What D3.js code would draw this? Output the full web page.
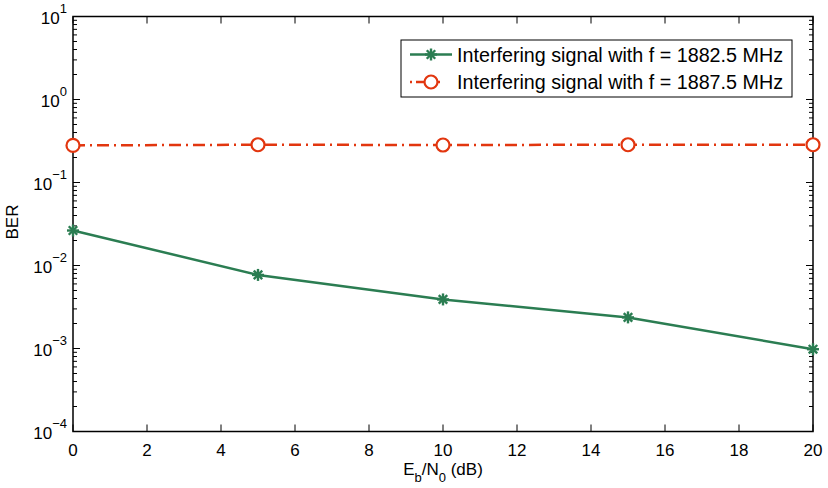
<!DOCTYPE html>
<meta charset="utf-8">
<script src="https://d3js.org/d3.v7.min.js"></script>
<style>
body { margin: 0; background: #fff; }
text { font-family: "Liberation Sans", Arial, sans-serif; }
</style>
<div id="chart"></div>
<script>
// data
var ebno = [0, 5, 10, 15, 20];
var ber1882 = [0.0264, 0.0077, 0.0039, 0.00237, 0.00098];
var ber1887 = [0.28, 0.285, 0.283, 0.285, 0.285];
var xTicks = [0, 2, 4, 6, 8, 10, 12, 14, 16, 18, 20];
var yExps = [-4, -3, -2, -1, 0, 1];
var seriesNames = ["Interfering signal with f = 1882.5 MHz", "Interfering signal with f = 1887.5 MHz"];

var W = 828, H = 488;
var margin = {top: 16.5, right: 15, bottom: 56.5, left: 73};
var width = W - margin.left - margin.right,
    height = H - margin.top - margin.bottom;

var green = "#2b7d52", red = "#e2360f";

var svg = d3.select("#chart").append("svg")
    .attr("width", W).attr("height", H);
var g = svg.append("g")
    .attr("transform", "translate(" + margin.left + "," + margin.top + ")");

var x = d3.scaleLinear().domain([0, 20]).range([0, width]);
var y = d3.scaleLog().domain([1e-4, 10]).range([height, 0]);

// minor log ticks
var minor = [];
yExps.slice(0, -1).forEach(function(e) {
  for (var k = 2; k <= 9; k++) minor.push(k * Math.pow(10, e));
});

var ticks = g.append("g").attr("stroke", "#000").attr("stroke-width", 1);
// y major / minor, left and right, inward
yExps.forEach(function(e) {
  var yy = y(Math.pow(10, e));
  ticks.append("line").attr("x1", 0).attr("x2", 7).attr("y1", yy).attr("y2", yy);
  ticks.append("line").attr("x1", width).attr("x2", width - 7).attr("y1", yy).attr("y2", yy);
});
minor.forEach(function(v) {
  var yy = y(v);
  ticks.append("line").attr("x1", 0).attr("x2", 4).attr("y1", yy).attr("y2", yy);
  ticks.append("line").attr("x1", width).attr("x2", width - 4).attr("y1", yy).attr("y2", yy);
});
// x ticks bottom and top, inward
xTicks.forEach(function(t) {
  var xx = x(t);
  ticks.append("line").attr("x1", xx).attr("x2", xx).attr("y1", height).attr("y2", height - 7);
  ticks.append("line").attr("x1", xx).attr("x2", xx).attr("y1", 0).attr("y2", 7);
});

// box
g.append("rect").attr("width", width).attr("height", height)
  .attr("fill", "none").attr("stroke", "#000").attr("stroke-width", 1.5);

// x tick labels
g.selectAll(".xl").data(xTicks).enter().append("text")
  .attr("x", function(d) { return x(d); })
  .attr("y", height + 24)
  .attr("text-anchor", "middle")
  .attr("font-size", 17)
  .text(function(d) { return d; });

// y tick labels 10^e
var yl = g.selectAll(".yl").data(yExps).enter().append("text")
  .attr("x", -6)
  .attr("y", function(d) { return y(Math.pow(10, d)) + 7; })
  .attr("text-anchor", "end")
  .attr("font-size", 17);
yl.append("tspan").text("10");
yl.append("tspan").attr("dy", -11).attr("font-size", 13)
  .text(function(d) { return d < 0 ? "\u2212" + (-d) : d; });

// axis titles
var xt = svg.append("text")
  .attr("x", margin.left + width / 2)
  .attr("y", 475)
  .attr("text-anchor", "middle")
  .attr("font-size", 17);
xt.append("tspan").text("E");
xt.append("tspan").attr("font-size", 13).attr("dy", 7).text("b");
xt.append("tspan").attr("dy", -7).text("/N");
xt.append("tspan").attr("font-size", 13).attr("dy", 7).text("0");
xt.append("tspan").attr("dy", -7).text(" (dB)");

svg.append("text")
  .attr("transform", "translate(18," + (margin.top + height / 2 - 2) + ") rotate(-90)")
  .attr("text-anchor", "middle")
  .attr("font-size", 17)
  .text("BER");

var line = d3.line()
  .x(function(d) { return x(d[0]); })
  .y(function(d) { return y(d[1]); });

var d1 = d3.zip(ebno, ber1882), d2 = d3.zip(ebno, ber1887);

g.append("path").datum(d2).attr("d", line)
  .attr("fill", "none").attr("stroke", red).attr("stroke-width", 2.5)
  .attr("stroke-dasharray", "12,5,2,5");
g.append("path").datum(d1).attr("d", line)
  .attr("fill", "none").attr("stroke", green).attr("stroke-width", 2.5);

function star(sel, cx, cy, r, col) {
  var s = sel.append("g").attr("transform", "translate(" + cx + "," + cy + ")")
    .attr("stroke", col).attr("stroke-width", 2.4);
  [0, 45, 90, 135].forEach(function(a) {
    var rad = a * Math.PI / 180;
    s.append("line")
      .attr("x1", -r * Math.cos(rad)).attr("y1", -r * Math.sin(rad))
      .attr("x2", r * Math.cos(rad)).attr("y2", r * Math.sin(rad));
  });
}

d1.forEach(function(d) { star(g, x(d[0]), y(d[1]), 6, green); });
g.selectAll(".circ").data(d2).enter().append("circle")
  .attr("cx", function(d) { return x(d[0]); })
  .attr("cy", function(d) { return y(d[1]); })
  .attr("r", 6.5)
  .attr("fill", "#fff").attr("stroke", red).attr("stroke-width", 2.2);

// legend
var lg = svg.append("g").attr("transform", "translate(401,40)");
lg.append("rect").attr("width", 391).attr("height", 57)
  .attr("fill", "#fff").attr("stroke", "#000").attr("stroke-width", 1);
var rows = [{c: green, dash: null, m: "star"}, {c: red, dash: "12,5,2,5", m: "circle"}];
rows.forEach(function(r, i) {
  var yy = 14.5 + i * 27.5;
  lg.append("line").attr("x1", 9).attr("x2", 51).attr("y1", yy).attr("y2", yy)
    .attr("stroke", r.c).attr("stroke-width", 2.5)
    .attr("stroke-dasharray", r.dash ? "2,4,12,4,2" : null);
  if (r.m === "star") star(lg, 30, yy, 6, r.c);
  else lg.append("circle").attr("cx", 30).attr("cy", yy).attr("r", 6.5)
    .attr("fill", "#fff").attr("stroke", r.c).attr("stroke-width", 2.2);
  lg.append("text").attr("x", 56).attr("y", yy + 7)
    .attr("font-size", 19.5).attr("textLength", 326).attr("lengthAdjust", "spacingAndGlyphs")
    .text(seriesNames[i]);
});
</script>
